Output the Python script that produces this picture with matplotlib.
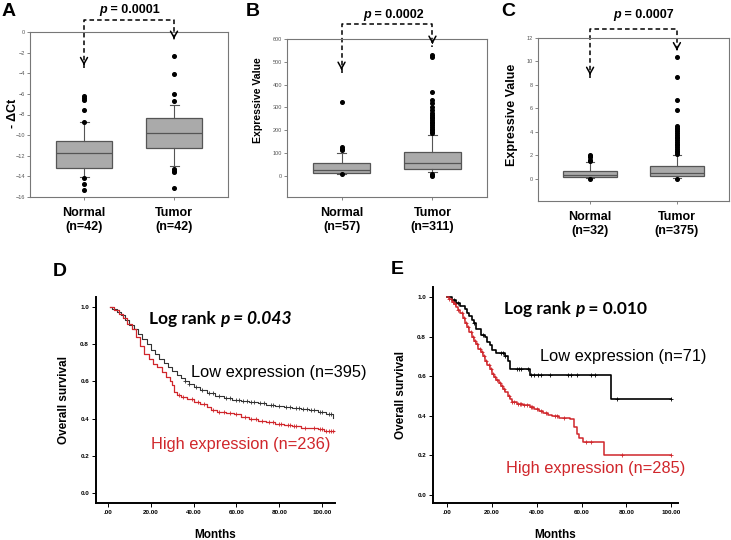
import numpy as np
import matplotlib.pyplot as plt

W, H = 731, 540

# ---- box plot panels (A, B, C) ----
groups = ['Normal', 'Tumor']

a_n = ['(n=42)', '(n=42)']
a_q1 = [-13.2, -11.25]
a_med = [-11.7, -9.8]
a_q3 = [-10.55, -8.35]
a_lo = [-14.05, -12.95]
a_hi = [-8.7, -7.05]
a_fliers = [[-6.2, -6.4, -6.6, -7.55, -8.7, -14.2, -14.7, -15.3],
            [-2.3, -4.05, -6.0, -6.65, -13.3, -13.45, -13.6, -15.15]]

b_n = ['(n=57)', '(n=311)']
b_q1 = [14, 30]
b_med = [25, 59]
b_q3 = [59, 106]
b_lo = [10, 16]
b_hi = [102, 181]
b_fliers = [[326, 128, 120, 113, 7],
            [532, 522, 366, 334, 319, 304, 290, 278, 268, 260, 252, 246, 238,
             231, 224, 216, 208, 201, 194, 187, 10, 4, 1]]

c_n = ['(n=32)', '(n=375)']
c_q1 = [0.14, 0.2]
c_med = [0.28, 0.5]
c_q3 = [0.65, 1.1]
c_lo = [0.04, 0.05]
c_hi = [1.45, 2.05]
c_fliers = [[2.05, 1.95, 1.85, 1.6, 1.5, 0.0],
            [10.35, 8.65, 6.7, 5.9, 4.5, 4.35, 4.2, 4.05, 3.9, 3.75, 3.6, 3.45,
             3.3, 3.15, 3.0, 2.85, 2.7, 2.55, 2.4, 2.25, 2.12, -0.03]]

# ---- survival panels (D, E) ----
d_low_t = [1, 2, 4, 6, 8, 10, 12, 14, 16, 18, 20, 22, 24, 26, 28, 30, 32, 34, 36, 38,
           40, 43, 46, 50, 54, 58, 62, 66, 70, 74, 78, 82, 86, 90, 94, 98, 102, 105]
d_low_s = [1.0, 0.99, 0.975, 0.955, 0.93, 0.905, 0.88, 0.855, 0.83, 0.80, 0.77, 0.745,
           0.72, 0.70, 0.675, 0.655, 0.635, 0.62, 0.60, 0.585, 0.57, 0.555, 0.54, 0.52,
           0.51, 0.50, 0.495, 0.49, 0.485, 0.475, 0.47, 0.46, 0.455, 0.45, 0.445, 0.435,
           0.425, 0.405]
d_low_cens = [36, 38, 41, 44, 47, 49, 52, 55, 57, 60, 61, 63, 65, 67, 68, 71, 73, 76,
              77, 80, 83, 85, 88, 89, 91, 93, 95, 96, 99, 100, 103, 104]

d_high_t = [1, 3, 5, 7, 9, 11, 13, 15, 17, 19, 21, 23, 25, 27, 29, 30, 31, 32, 34, 37,
            40, 43, 46, 48, 51, 55, 59, 62, 66, 70, 74, 78, 82, 86, 90, 94, 98, 101, 106]
d_high_s = [1.0, 0.985, 0.965, 0.94, 0.91, 0.88, 0.84, 0.79, 0.745, 0.72, 0.695, 0.675,
            0.65, 0.625, 0.60, 0.58, 0.545, 0.525, 0.515, 0.505, 0.49, 0.478, 0.462,
            0.448, 0.435, 0.43, 0.425, 0.41, 0.40, 0.385, 0.38, 0.372, 0.365, 0.358,
            0.35, 0.348, 0.345, 0.333, 0.333]
d_high_cens = [33, 35, 39, 42, 45, 49, 52, 54, 57, 60, 64, 67, 69, 72, 75, 77, 80, 81,
               84, 85, 87, 88, 92, 96, 99, 100, 102, 103, 104, 105]

e_low_t = [0, 2, 4, 6, 8, 9, 10, 11, 12, 13, 15, 17, 18, 19, 20, 22, 26, 27, 28, 37, 73, 100]
e_low_s = [1.0, 0.985, 0.97, 0.955, 0.94, 0.92, 0.905, 0.885, 0.87, 0.84, 0.81, 0.80,
           0.77, 0.755, 0.73, 0.715, 0.70, 0.675, 0.635, 0.605, 0.485, 0.485]
e_low_cens = [3, 5, 12, 16, 24, 25, 26, 31, 32, 33, 36, 37.5, 39, 40.5, 42, 46, 54,
              55.5, 58, 64, 66, 76, 100]

e_high_t = [0, 1, 2, 3, 4, 5, 6, 7, 8, 9, 10, 11, 12, 13, 14, 15, 16, 17, 18, 19, 20,
            21, 22, 23, 24, 25, 26, 27, 28, 29, 31, 34, 37, 39, 41, 43, 45, 47, 50, 55,
            56.5, 58, 59, 60.5, 70, 100]
e_high_s = [1.0, 0.99, 0.975, 0.965, 0.95, 0.935, 0.92, 0.895, 0.87, 0.85, 0.825, 0.80,
            0.78, 0.76, 0.735, 0.72, 0.70, 0.675, 0.655, 0.635, 0.61, 0.595, 0.58, 0.565,
            0.55, 0.535, 0.52, 0.50, 0.485, 0.47, 0.46, 0.455, 0.445, 0.435, 0.425, 0.415,
            0.405, 0.40, 0.39, 0.385, 0.345, 0.31, 0.29, 0.27, 0.20, 0.20]
e_high_cens = [1, 2.5, 3.5, 5, 6.5, 7.5, 8.5, 9.5, 10.5, 11.5, 12.5, 13.5, 14.5, 15.5,
               16.5, 17.5, 18.5, 19.5, 20.5, 21.5, 22.5, 23.5, 24.5, 25.5, 27.5, 29, 30,
               31.5, 32.5, 33, 34.5, 35.5, 37.5, 38, 40, 42, 44, 48, 49, 52, 62, 64, 78, 100]

RED = '#d0262b'
plt.rcParams['font.family'] = 'Liberation Sans'

fig = plt.figure(figsize=(W / 100, H / 100), dpi=100)
renderer = fig.canvas.get_renderer()


def rect(l, t, r, b):
    return [l / W, 1 - b / H, (r - l) / W, (b - t) / H]


def ftext(x, y, s, **kw):
    return fig.text(x / W, 1 - y / H, s, **kw)


def rich(x, y, parts, **kw):
    # draw text pieces one after another, each with its own style
    for s, style in parts:
        t = ftext(x, y, s, fontstyle=style, ha='left', va='center', **kw)
        x += t.get_window_extent(renderer=renderer).width


def box_panel(box, q1, med, q3, lo, hi, fliers, ns, ylim, yticks, ylabel,
              bracket, tips, ptext, letter):
    ax = fig.add_axes(rect(*box))
    stats = [dict(q1=q1[i], med=med[i], q3=q3[i], whislo=lo[i], whishi=hi[i],
                  fliers=fliers[i]) for i in range(2)]
    ax.bxp(stats, positions=[1, 2], widths=0.62, patch_artist=True, capwidths=0.1,
           boxprops=dict(facecolor='#aaaaaa', edgecolor='#555555', linewidth=0.9),
           medianprops=dict(color='#555555', linewidth=0.9),
           whiskerprops=dict(color='#555555', linewidth=0.8),
           capprops=dict(color='#555555', linewidth=0.8),
           flierprops=dict(marker='o', markerfacecolor='black', markeredgecolor='black',
                           markersize=2.6))
    ax.set_xlim(0.4, 2.6)
    ax.set_ylim(*ylim)
    ax.set_yticks(yticks)
    ax.tick_params(axis='y', labelsize=4, colors='#555555', length=2, width=0.5, pad=1.5)
    ax.tick_params(axis='x', length=2, width=0.5, colors='#555555', pad=5)
    ax.set_xticks([1, 2])
    ax.set_xticklabels([f'{g}\n{n}' for g, n in zip(groups, ns)], fontsize=9,
                       fontweight='bold', color='black', linespacing=1.25)
    for sp in ax.spines.values():
        sp.set_color('#777777')
        sp.set_linewidth(0.8)
    ftext(ylabel[1], ylabel[2], ylabel[0], fontsize=ylabel[3], fontweight='bold',
          rotation=90, ha='center', va='center')
    # dashed bracket with open arrow heads
    ax.plot([1, 1, 2, 2], [tips[0], bracket, bracket, tips[1]], ls='--', lw=1.1,
            color='black', clip_on=False, dashes=(3, 2))
    span = ylim[1] - ylim[0]
    for x, tip in zip([1, 2], tips):
        ax.annotate('', xy=(x, tip), xytext=(x, tip + span * 0.05),
                    arrowprops=dict(arrowstyle='->,head_width=0.25,head_length=0.45',
                                    lw=1.1, color='black'),
                    annotation_clip=False)
    rich(ptext[0], ptext[1], [('p', 'italic'), (' = ' + ptext[2], 'normal')],
         fontsize=9, fontweight='bold')
    ftext(letter[1], letter[2], letter[0], fontsize=14, fontweight='bold',
          ha='center', va='center')
    return ax


box_panel((30, 32, 228, 197), a_q1, a_med, a_q3, a_lo, a_hi, a_fliers, a_n,
          (-16, 0), np.arange(-16, 1, 2), ('- \u0394Ct', 13, 113, 9), 1.16,
          (-3.5, -0.95), (99, 10, '0.0001'), ('A', 9, 11))
box_panel((287, 39, 487, 197), b_q1, b_med, b_q3, b_lo, b_hi, b_fliers, b_n,
          (-92, 600), np.arange(0, 601, 100), ('Expressive Value', 258, 100, 7.6), 666,
          (452, 566), (363, 15, '0.0002'), ('B', 253, 11))
box_panel((538, 38, 729, 201), c_q1, c_med, c_q3, c_lo, c_hi, c_fliers, c_n,
          (-1.9, 12), np.arange(0, 13, 2), ('Expressive Value', 512, 115, 9), 12.77,
          (8.6, 10.7), (613, 15, '0.0007'), ('C', 508, 12))


def km_panel(box, xlim, ylim, curves, letter, logrank, low_lab, high_lab):
    ax = fig.add_axes(rect(*box))
    for t, s, cens, color, lw in curves:
        ax.plot(t, s, drawstyle='steps-post', color=color, lw=lw)
        idx = np.searchsorted(t, cens, side='right') - 1
        ax.plot(cens, np.asarray(s)[idx], ls='none', marker='+', color=color,
                markersize=3.5, markeredgewidth=0.6)
    ax.set_xlim(*xlim)
    ax.set_ylim(*ylim)
    ax.set_xticks([0, 20, 40, 60, 80, 100])
    ax.set_xticklabels(['.00', '20.00', '40.00', '60.00', '80.00', '100.00'])
    ax.set_yticks([0, 0.2, 0.4, 0.6, 0.8, 1.0])
    ax.set_yticklabels(['0.0', '0.2', '0.4', '0.6', '0.8', '1.0'])
    ax.tick_params(labelsize=4.5, length=3, width=0.7, pad=2)
    for lab in ax.get_xticklabels() + ax.get_yticklabels():
        lab.set_fontweight('bold')
    ax.spines['top'].set_visible(False)
    ax.spines['right'].set_visible(False)
    ax.spines['left'].set_linewidth(1.4)
    ax.spines['bottom'].set_linewidth(1.4)
    ax.set_ylabel('Overall survival', fontsize=8.5, fontweight='bold', labelpad=7)
    ax.set_xlabel('Months', fontsize=8.5, fontweight='bold', labelpad=10)
    ftext(letter[1], letter[2], letter[0], fontsize=14, fontweight='bold',
          ha='center', va='center')
    rich(logrank[0], logrank[1], logrank[2], fontsize=12.5, fontweight='bold',
         family='Lato')
    ftext(low_lab[0], low_lab[1], low_lab[2], fontsize=11.8, ha='left', va='center')
    ftext(high_lab[0], high_lab[1], high_lab[2], fontsize=11.8, ha='left',
          va='center', color=RED)
    return ax


km_panel((96, 297, 335, 503), (-5.6, 106), (-0.054, 1.054),
         [(d_low_t, d_low_s, d_low_cens, '#333333', 0.8),
          (d_high_t, d_high_s, d_high_cens, RED, 0.9)],
         ('D', 60, 272),
         (149, 319, [('Log rank ', 'normal'), ('p = 0.043', 'italic')]),
         (191, 373, 'Low expression (n=395)'),
         (151, 444, 'High expression (n=236)'))

km_panel((433, 287, 678, 503), (-6.25, 103), (-0.04, 1.05),
         [(e_low_t, e_low_s, e_low_cens, 'black', 1.2),
          (e_high_t, e_high_s, e_high_cens, RED, 1.1)],
         ('E', 397, 270),
         (504, 309, [('Log rank ', 'normal'), ('p', 'italic'), (' = 0.010', 'normal')]),
         (540, 356, 'Low expression (n=71)'),
         (506, 469, 'High expression (n=285)'))

fig.savefig('out.png', dpi=100)
